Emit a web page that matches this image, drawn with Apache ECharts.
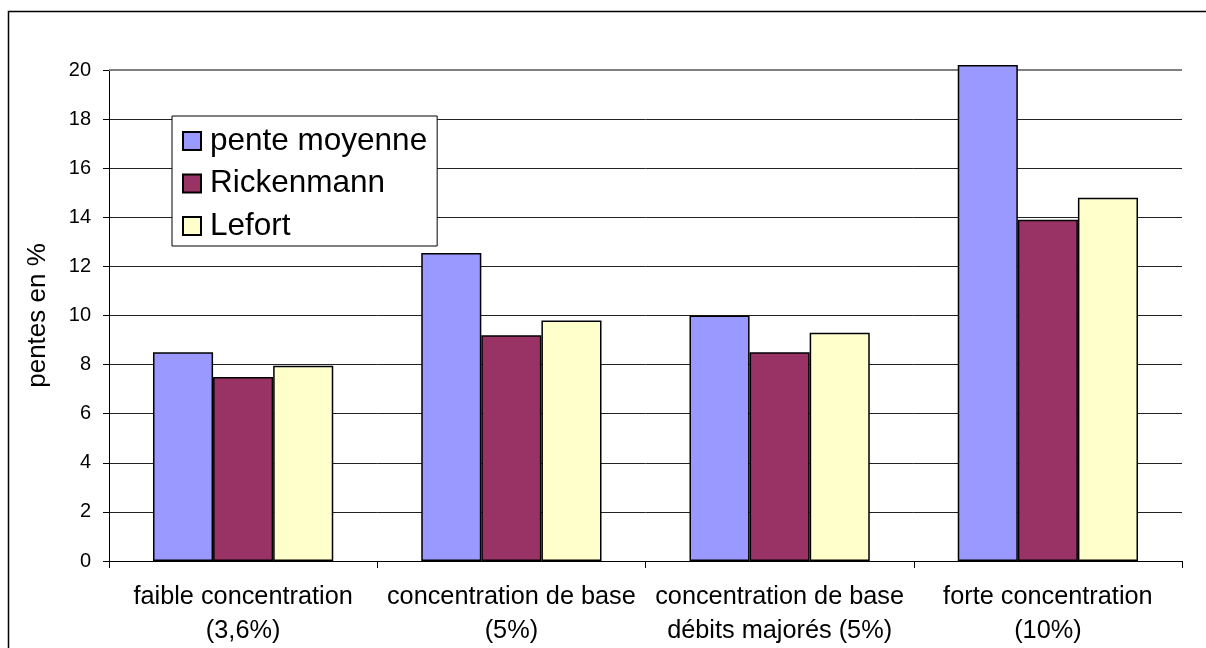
<!DOCTYPE html>
<html>
<head>
<meta charset="utf-8">
<script src="https://cdn.jsdelivr.net/npm/echarts@6/dist/echarts.min.js"></script>
<style>
  html, body { margin: 0; padding: 0; background: #fff; }
  #chart { width: 1206px; height: 648px; }
</style>
</head>
<body>
<div id="chart"></div>
<script>
// Categories (two-line labels) and slope values in %
const categories = [
  'faible concentration\n(3,6%)',
  'concentration de base\n(5%)',
  'concentration de base\ndébits majorés (5%)',
  'forte concentration\n(10%)'
];
const penteMoyenne = [8.5, 12.55, 10.0, 20.2];
const rickenmann   = [7.5, 9.2, 8.5, 13.9];
const lefort       = [7.95, 9.8, 9.3, 14.8];
const yTicks = [0, 2, 4, 6, 8, 10, 12, 14, 16, 18, 20];

const FONT = 'Liberation Sans, Arial, sans-serif';
const chart = echarts.init(document.getElementById('chart'), null, { renderer: 'canvas' });

const barStyle = (color) => ({
  color: color,
  borderColor: '#000',
  borderWidth: 1.5
});

chart.setOption({
  animation: false,
  backgroundColor: '#fff',
  textStyle: { fontFamily: FONT },
  graphic: [{
    type: 'rect',
    shape: { x: 8.5, y: 11.5, width: 1400, height: 800 },
    style: { fill: 'none', stroke: '#000', lineWidth: 1.5 },
    silent: true,
    z: -1
  }],
  grid: { left: 109, right: 24, top: 70, bottom: 83, containLabel: false },
  legend: {
    orient: 'vertical',
    left: 172,
    top: 116,
    padding: [9, 10, 4, 10],
    itemGap: 10.5,
    itemWidth: 18,
    itemHeight: 18,
    icon: 'rect',
    backgroundColor: '#fff',
    borderColor: '#000',
    borderWidth: 1,
    textStyle: { fontFamily: FONT, fontSize: 31.5, color: '#000', lineHeight: 30, padding: [0, 0, 0, 4] },
    data: ['pente moyenne', 'Rickenmann', 'Lefort']
  },
  xAxis: {
    type: 'category',
    data: categories,
    axisLine: { lineStyle: { color: '#000', width: 1 } },
    axisTick: { show: true, length: 7, lineStyle: { color: '#000' } },
    axisLabel: {
      fontFamily: FONT, fontSize: 25.3, color: '#000',
      lineHeight: 34, margin: 19, interval: 0
    },
    splitLine: { show: false }
  },
  yAxis: {
    type: 'value',
    min: yTicks[0],
    max: yTicks[yTicks.length - 1],
    interval: 2,
    name: 'pentes en %',
    nameLocation: 'middle',
    nameGap: 58,
    nameTextStyle: { fontFamily: FONT, fontSize: 26, color: '#000' },
    axisLine: { show: true, lineStyle: { color: '#000', width: 1 } },
    axisTick: { show: true, length: 6, lineStyle: { color: '#000' } },
    axisLabel: { fontFamily: FONT, fontSize: 20, color: '#000', margin: 18 },
    splitLine: { show: true, lineStyle: { color: '#222', width: 1 } }
  },
  series: [
    { name: 'pente moyenne', type: 'bar', data: penteMoyenne, itemStyle: barStyle('#9999FF'),
      barGap: '0%', barCategoryGap: '32.8%', clip: false,
      // top edge of the plot area, drawn in grey
      markLine: {
        silent: true, symbol: 'none', label: { show: false },
        lineStyle: { color: '#808080', width: 2, type: 'solid' },
        data: [{ yAxis: yTicks[yTicks.length - 1] }],
        z: 1
      }
    },
    { name: 'Rickenmann', type: 'bar', data: rickenmann, itemStyle: barStyle('#993366'), clip: false },
    { name: 'Lefort', type: 'bar', data: lefort, itemStyle: barStyle('#FFFFCC'), clip: false }
  ]
});
</script>
</body>
</html>
